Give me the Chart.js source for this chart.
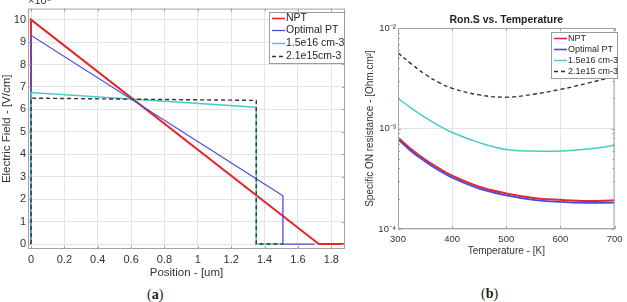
<!DOCTYPE html>
<html>
<head>
<meta charset="utf-8">
<script src="https://cdn.jsdelivr.net/npm/chart.js@4/dist/chart.umd.min.js"></script>
<style>
    body { margin: 0; background: #fff; width: 627px; height: 302px; overflow: hidden; position: relative; }
    #panel-a { position: absolute; left: 0; top: 0; width: 350px; height: 285px; }
    #panel-b { position: absolute; left: 355px; top: 0; width: 272px; height: 270px; }
    .cap { position: absolute; font-family: "Liberation Serif", serif; font-size: 14px; line-height: 16px; color: #222; }
</style>
</head>
<body>
<div id="panel-a"><canvas id="field-chart"></canvas></div>
<div id="panel-b"><canvas id="ron-chart"></canvas></div>
<div class="cap" style="left:147px;top:287px">(<b>a</b>)</div>
<div class="cap" style="left:481px;top:286px">(<b>b</b>)</div>
<script>
// (a) Electric field vs position, field in units of 1e5 V/cm
const nptPos = [0, 0, 1.725, 1.9];
const nptField = [0, 10, 0, 0];
const optPos = [0, 0, 1.51, 1.51, 1.70];
const optField = [0, 9.3, 2.15, 0, 0];
const dop16Pos = [0, 0, 1.35, 1.35, 1.51];
const dop16Field = [0, 6.75, 6.1, 0, 0];
const dop15Pos = [0, 0, 1.35, 1.35, 1.51];
const dop15Field = [0, 6.5, 6.4, 0, 0];
const posTicks = [0, 0.2, 0.4, 0.6, 0.8, 1, 1.2, 1.4, 1.6, 1.8];
const fieldTicks = [0, 1, 2, 3, 4, 5, 6, 7, 8, 9, 10];
const fieldLabels = ['NPT', 'Optimal PT', '1.5e16 cm-3', '2.1e15cm-3'];

// (b) Specific ON resistance vs temperature
const temps = [300, 325, 350, 375, 400, 450, 500, 550, 600, 650, 700];
const ronNpt = [8.13e-4, 6.17e-4, 4.9e-4, 4.03e-4, 3.39e-4, 2.63e-4, 2.26e-4, 2.04e-4, 1.95e-4, 1.9e-4, 1.93e-4];
const ronOpt = [7.8e-4, 5.9e-4, 4.7e-4, 3.85e-4, 3.24e-4, 2.52e-4, 2.16e-4, 1.95e-4, 1.86e-4, 1.82e-4, 1.83e-4];
const ron16 = [2.0e-3, 1.585e-3, 1.29e-3, 1.07e-3, 9.12e-4, 7.24e-4, 6.17e-4, 5.96e-4, 5.96e-4, 6.24e-4, 6.76e-4];
const ron15 = [5.66e-3, 4.37e-3, 3.47e-3, 2.88e-3, 2.51e-3, 2.16e-3, 2.05e-3, 2.19e-3, 2.45e-3, 2.82e-3, 3.31e-3];
const tempTicks = [300, 400, 500, 600, 700];
const ronTicks = [1e-4, 1e-3, 1e-2];
const ronTickLabels = ['10⁻⁴', '10⁻³', '10⁻²'];
const ronLabels = ['NPT', 'Optimal PT', '1.5e16 cm-3', '2.1e15 cm-3'];

const FONT = '"Liberation Sans", Arial, sans-serif';
const RED = '#e8262c';
const BLUE = '#4a4ade';
const CYAN = '#46cdc4';
const BLACK = '#333333';
const GRID = '#e3e3e3';

const pts = (xs, ys) => xs.map((x, i) => ({ x: x, y: ys[i] }));

// box round the plot with inward ticks, like matlab axes
const framePlugin = {
    id: 'frame',
    afterDatasetsDraw(chart, args, opts) {
        const { ctx, chartArea: a, scales } = chart;
        ctx.save();
        ctx.strokeStyle = '#a3a3a3';
        ctx.lineWidth = 1;
        ctx.strokeRect(a.left + 0.5, a.top + 0.5, a.right - a.left - 1, a.bottom - a.top - 1);
        ctx.beginPath();
        scales.x.ticks.forEach(t => {
            const px = Math.round(scales.x.getPixelForValue(t.value)) + 0.5;
            ctx.moveTo(px, a.bottom); ctx.lineTo(px, a.bottom - 3);
            ctx.moveTo(px, a.top); ctx.lineTo(px, a.top + 3);
        });
        scales.y.ticks.forEach(t => {
            const py = Math.round(scales.y.getPixelForValue(t.value)) + 0.5;
            ctx.moveTo(a.left, py); ctx.lineTo(a.left + 3, py);
            ctx.moveTo(a.right, py); ctx.lineTo(a.right - 3, py);
        });
        (opts.minor || []).forEach(v => {
            const py = Math.round(scales.y.getPixelForValue(v)) + 0.5;
            ctx.moveTo(a.left, py); ctx.lineTo(a.left + 2, py);
            ctx.moveTo(a.right, py); ctx.lineTo(a.right - 2, py);
        });
        ctx.stroke();
        if (opts.exponent) {
            ctx.fillStyle = '#333';
            ctx.font = '11px ' + FONT;
            ctx.textBaseline = 'alphabetic';
            ctx.fillText(opts.exponent, a.left, 4);
        }
        ctx.restore();
    }
};

const legendPlugin = {
    id: 'boxLegend',
    afterDraw(chart, args, o) {
        const ctx = chart.ctx;
        ctx.save();
        ctx.fillStyle = '#fff';
        ctx.fillRect(o.x, o.y, o.w, o.h);
        ctx.strokeStyle = '#9c9c9c';
        ctx.lineWidth = 1;
        ctx.strokeRect(o.x + 0.5, o.y + 0.5, o.w, o.h);
        ctx.font = o.size + 'px ' + FONT;
        ctx.textBaseline = 'middle';
        chart.data.datasets.forEach((ds, i) => {
            const y = Math.round(o.y + o.first + i * o.step) + 0.5;
            ctx.strokeStyle = ds.borderColor;
            ctx.lineWidth = Math.min(ds.borderWidth, 1.6);
            ctx.setLineDash(ds.borderDash || []);
            ctx.beginPath();
            ctx.moveTo(o.x + 3, y);
            ctx.lineTo(o.x + 3 + o.len, y);
            ctx.stroke();
            ctx.setLineDash([]);
            ctx.fillStyle = '#262626';
            ctx.fillText(ds.label, o.x + 4 + o.len, y);
        });
        ctx.restore();
    }
};

new Chart(document.getElementById('field-chart'), {
    type: 'line',
    data: {
        datasets: [
            { label: fieldLabels[0], data: pts(nptPos, nptField), borderColor: RED, borderWidth: 2, order: 3 },
            { label: fieldLabels[1], data: pts(optPos, optField), borderColor: BLUE, borderWidth: 1.3, order: 2 },
            { label: fieldLabels[2], data: pts(dop16Pos, dop16Field), borderColor: CYAN, borderWidth: 1.5, order: 1 },
            { label: fieldLabels[3], data: pts(dop15Pos, dop15Field), borderColor: BLACK, borderWidth: 1.4, borderDash: [4, 3], order: 0 }
        ]
    },
    options: {
        responsive: true,
        maintainAspectRatio: false,
        animation: false,
        layout: { padding: { top: 8, right: 5, left: 0, bottom: 0 } },
        elements: { point: { radius: 0 }, line: { tension: 0 } },
        plugins: {
            legend: { display: false },
            tooltip: { enabled: false },
            frame: { exponent: '×10⁵' },
            boxLegend: { x: 269, y: 12, w: 75, h: 51, first: 5.5, step: 12.7, len: 13, size: 10.5 }
        },
        scales: {
            x: {
                type: 'linear',
                min: -0.018,
                max: 1.882,
                afterBuildTicks: s => { s.ticks = posTicks.map(v => ({ value: v })); },
                afterFit: s => { s.height = 36; },
                grid: { color: GRID, drawTicks: false },
                border: { display: false },
                ticks: { font: { family: FONT, size: 11 }, color: '#333', padding: 4, maxRotation: 0,
                         callback: v => String(Math.round(v * 10) / 10) },
                title: { display: true, text: 'Position - [um]', color: '#333',
                         font: { family: FONT, size: 11.5 }, padding: { top: 0, bottom: 5 } }
            },
            y: {
                min: -0.22,
                max: 10.49,
                afterBuildTicks: s => { s.ticks = fieldTicks.map(v => ({ value: v })); },
                afterFit: s => { s.width = 28; },
                grid: { color: GRID, drawTicks: false },
                border: { display: false },
                ticks: { font: { family: FONT, size: 11 }, color: '#333', padding: 2 },
                title: { display: true, text: 'Electric Field - [V/cm]', color: '#333',
                         font: { family: FONT, size: 11.5 }, padding: { top: 0, bottom: 0 } }
            }
        }
    },
    plugins: [framePlugin, legendPlugin]
});

const minorLog = [];
[1e-4, 1e-3].forEach(d => { for (let k = 2; k <= 9; k++) minorLog.push(k * d); });

new Chart(document.getElementById('ron-chart'), {
    type: 'line',
    data: {
        datasets: [
            { label: ronLabels[0], data: pts(temps, ronNpt), borderColor: RED, borderWidth: 2, order: 3 },
            { label: ronLabels[1], data: pts(temps, ronOpt), borderColor: BLUE, borderWidth: 1.8, order: 2 },
            { label: ronLabels[2], data: pts(temps, ron16), borderColor: CYAN, borderWidth: 1.5, order: 1 },
            { label: ronLabels[3], data: pts(temps, ron15), borderColor: BLACK, borderWidth: 1.4, borderDash: [4, 3], order: 0 }
        ]
    },
    options: {
        responsive: true,
        maintainAspectRatio: false,
        animation: false,
        layout: { padding: { top: 0, right: 8, left: 0, bottom: 0 } },
        elements: { point: { radius: 0 }, line: { tension: 0.4 } },
        plugins: {
            legend: { display: false },
            tooltip: { enabled: false },
            title: { display: true, text: 'Ron.S vs. Temperature', fullSize: false, color: '#222',
                     font: { family: FONT, size: 10.5, weight: 'bold' }, padding: { top: 14, bottom: 1.4 } },
            frame: { minor: minorLog },
            boxLegend: { x: 196, y: 32, w: 66, h: 46, first: 6, step: 11, len: 13, size: 9 }
        },
        scales: {
            x: {
                type: 'linear',
                min: 300,
                max: 700,
                afterBuildTicks: s => { s.ticks = tempTicks.map(v => ({ value: v })); },
                afterFit: s => { s.height = 41; },
                grid: { color: GRID, drawTicks: false },
                border: { display: false },
                ticks: { font: { family: FONT, size: 9.5 }, color: '#333', padding: 4.5, maxRotation: 0 },
                title: { display: true, text: 'Temperature - [K]', color: '#333',
                         font: { family: FONT, size: 10 }, padding: { top: 0, bottom: 13 } }
            },
            y: {
                type: 'logarithmic',
                min: 1e-4,
                max: 1e-2,
                afterBuildTicks: s => { s.ticks = ronTicks.map(v => ({ value: v })); },
                afterFit: s => { s.width = 43; },
                grid: { color: GRID, drawTicks: false },
                border: { display: false },
                ticks: { font: { family: FONT, size: 9.5 }, color: '#333', padding: 2,
                         callback: (v, i) => ronTickLabels[i] },
                title: { display: true, text: 'Specific ON resistance - [Ohm.cm²]', color: '#333',
                         font: { family: FONT, size: 10 }, padding: { top: 9, bottom: 0 } }
            }
        }
    },
    plugins: [framePlugin, legendPlugin]
});
</script>
</body>
</html>
